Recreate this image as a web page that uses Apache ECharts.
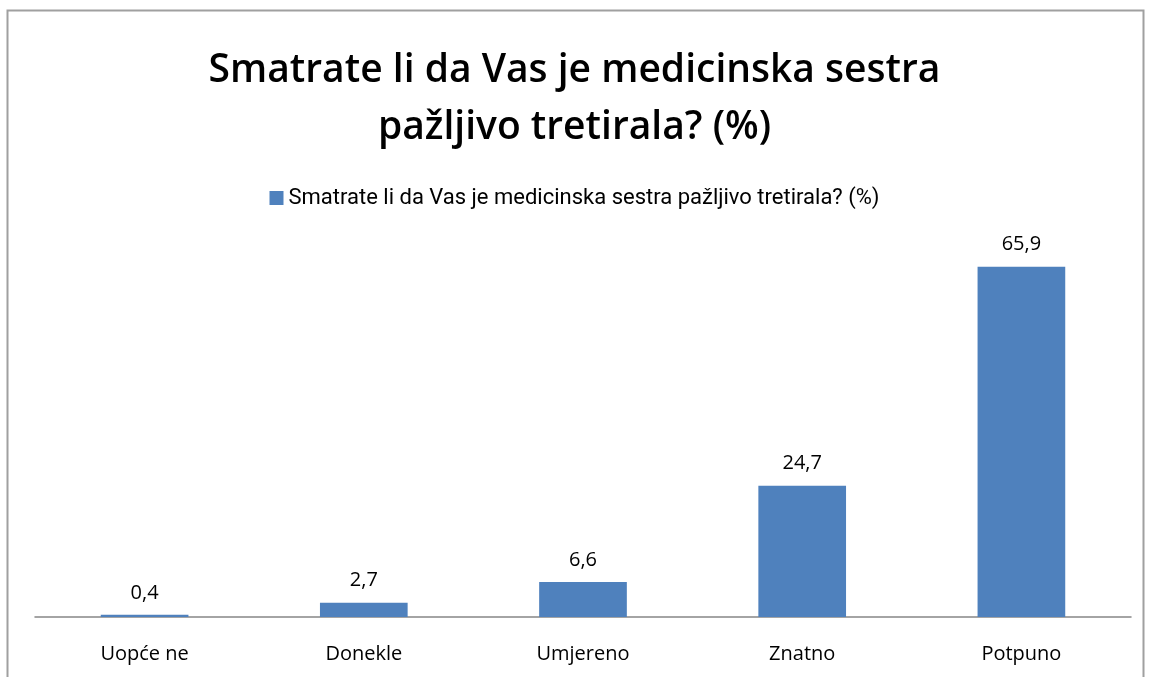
<!DOCTYPE html>
<html>
<head>
<meta charset="utf-8">
<script src="https://cdn.jsdelivr.net/npm/echarts@6/dist/echarts.min.js"></script>
<style>
  * { margin: 0; padding: 0; }
  html, body { width: 1149px; height: 677px; background: #fff; overflow: hidden; }
  #chart { width: 1149px; height: 677px; }
</style>
</head>
<body>
<div id="chart"></div>
<script>
var titleText = 'Smatrate li da Vas je medicinska sestra\npažljivo tretirala? (%)';
var seriesName = 'Smatrate li da Vas je medicinska sestra pažljivo tretirala? (%)';
var categories = ['Uopće ne', 'Donekle', 'Umjereno', 'Znatno', 'Potpuno'];
var values = [0.4, 2.7, 6.6, 24.7, 65.9];

var myChart = echarts.init(document.getElementById('chart'), null, { renderer: 'canvas' });

var option = {
  backgroundColor: '#fff',
  animation: false,
  title: {
    text: titleText,
    left: 'center',
    top: 37,
    textStyle: {
      fontFamily: 'Open Sans',
      fontSize: 39,
      fontWeight: 600,
      color: '#000',
      lineHeight: 57
    }
  },
  legend: {
    top: 182,
    left: 'center',
    itemWidth: 14,
    itemHeight: 14,
    itemGap: 6,
    textStyle: {
      fontFamily: 'Roboto',
      fontSize: 22,
      color: '#000'
    },
    data: [{ name: seriesName, icon: 'rect' }]
  },
  graphic: [{
    type: 'rect',
    shape: { x: 7.5, y: 10.5, width: 1136, height: 680 },
    style: { fill: 'none', stroke: '#a0a0a0', lineWidth: 2 },
    silent: true
  }],
  grid: { left: 35, right: 18, top: 245, bottom: 60, containLabel: false },
  xAxis: {
    type: 'category',
    data: categories,
    axisLine: { lineStyle: { color: '#868686', width: 1.5 } },
    axisTick: { show: false },
    axisLabel: {
      margin: 27,
      fontFamily: 'Open Sans',
      fontSize: 20,
      fontWeight: 500,
      color: '#000'
    }
  },
  yAxis: {
    type: 'value',
    min: 0,
    max: 70,
    interval: 10,
    show: false,
    splitLine: { show: false }
  },
  series: [{
    name: seriesName,
    type: 'bar',
    data: values,
    barCategoryGap: '60%',
    itemStyle: { color: '#4F81BD' },
    label: {
      show: true,
      position: 'top',
      distance: 12,
      fontFamily: 'Open Sans',
      fontSize: 20,
      color: '#000',
      formatter: function (p) { return String(p.value).replace('.', ','); }
    }
  }]
};

myChart.setOption(option);
</script>
</body>
</html>
